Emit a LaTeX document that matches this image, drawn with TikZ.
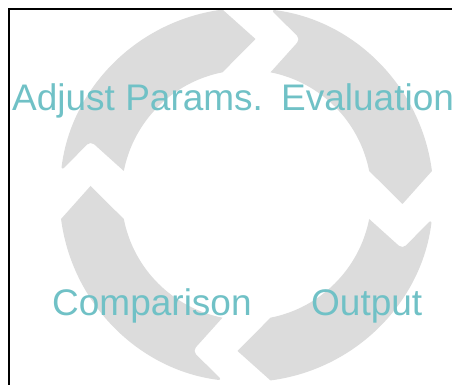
\documentclass[tikz,border=0pt]{standalone}
\usepackage{fontspec}
\setmainfont{Liberation Sans}
\definecolor{ringgray}{RGB}{220,220,220}
\definecolor{labelteal}{RGB}{112,193,198}

\begin{document}
\begin{tikzpicture}[x=1pt, y=1pt,
    arrowpart/.style={fill=ringgray},
    steplabel/.style={text=labelteal, anchor=base west, inner sep=0pt, font=\fontsize{37}{44}\selectfont}]
    % Frame of the picture
    \clip (-246.5,-190) rectangle (205.5,195);
    \useasboundingbox (-246.5,-190) rectangle (205.5,195);
    % Four curved arrows, running clockwise
    \foreach \turn in {0,-90,-180,-270} {
        \begin{scope}[rotate=\turn]
            \fill[arrowpart] (172.63:187) arc[start angle=172.63, end angle=97.37, radius=187]
                -- (9,156) -- (101.07:125) arc[start angle=101.07, end angle=168.93, radius=125]
                [rounded corners=5] -- (-156,54) -- cycle;
        \end{scope}
    }
    % Border lines
    \draw[line width=2pt] (210,186) -- (-237.5,186) -- (-237.5,-195);
    % Step labels
    \node[steplabel] (adjust) at (-234.5,84) {Adjust Params.};
    \node[steplabel] (evaluation) at (34.5,84) {Evaluation};
    \node[steplabel] (comparison) at (-194.5,-121) {Comparison};
    \node[steplabel] (output) at (64.5,-121) {Output};
\end{tikzpicture}
\end{document}
